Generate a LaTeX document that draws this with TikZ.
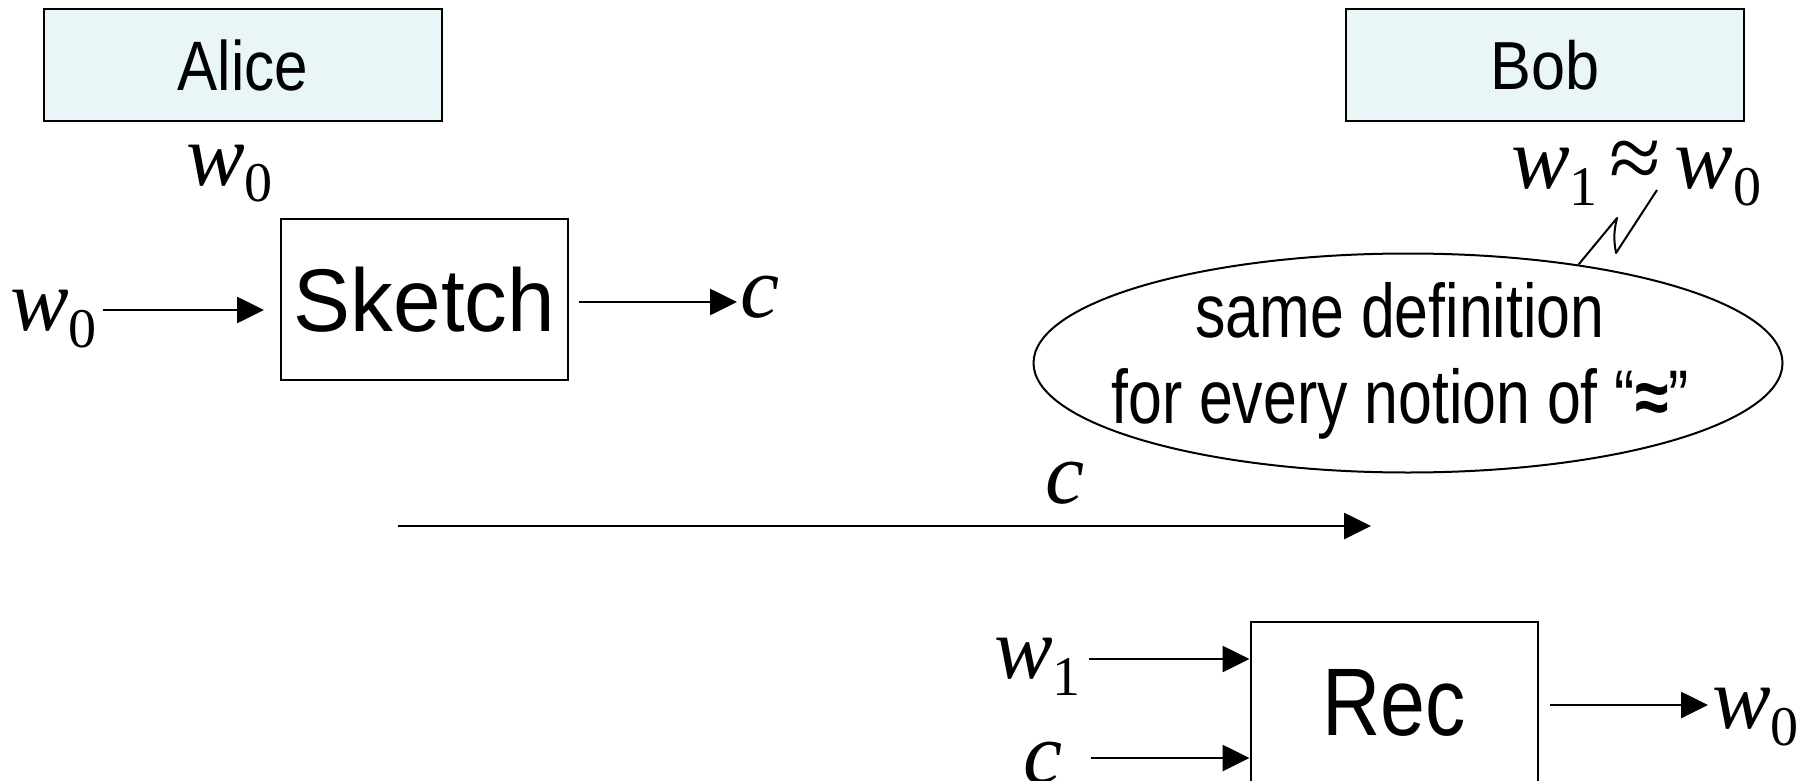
\documentclass[tikz,border=0pt]{standalone}
\usepackage{fontspec}
\setmainfont{Liberation Sans}
\newfontfamily\tms{Liberation Serif}
\usetikzlibrary{arrows.meta,shapes.geometric}
\definecolor{boxfill}{RGB}{234,245,247}
\newcommand{\hs}[2]{\scalebox{#1}[1]{#2}}
\newcommand{\mv}[1]{{\tms\itshape #1}}
\newcommand{\sbs}[1]{\raisebox{-17pt}{\tms\fontsize{56}{56}\selectfont #1}}
\tikzset{
  every picture/.style={x=1pt,y=-1pt},
  arr/.style={line width=2.7pt,-{Triangle[length=27pt,width=26pt]}},
  namebox/.style={draw,line width=2pt,fill=boxfill,minimum width=398pt,minimum height=112pt,inner sep=0pt,font=\fontsize{70}{70}\selectfont},
  procbox/.style={draw,line width=2pt,minimum width=287pt,minimum height=161pt,inner sep=0pt},
  mth/.style={inner sep=0pt,anchor=base west,font=\fontsize{88}{88}\selectfont},
}
\begin{document}
\begin{tikzpicture}
\useasboundingbox (0,0) rectangle (1806,781);
\clip (0,0) rectangle (1806,781);
% name boxes
\node[namebox] (alice) at (243,65) {\hs{0.86}{Alice}};
\node[namebox,font=\fontsize{68}{68}\selectfont] (bob) at (1545,65) {\hs{0.9}{Bob}};
% Alice side
\node[mth] (w0a) at (186,185) {\mv{w}\sbs{0}};
\node[procbox,font=\fontsize{89}{89}\selectfont] (sketch) at (424.5,299.5) {\hs{0.96}{Sketch}};
\node[mth] (w0in) at (10,330) {\mv{w}\sbs{0}};
\node[mth] (cout) at (740,317) {\mv{c}};
\draw[arr] ([xshift=6pt,yshift=20pt]w0in.base east) -- ([xshift=-16pt,yshift=-10.5pt]sketch.west);
\draw[arr] ([xshift=10pt,yshift=-2.5pt]sketch.east) -- ([xshift=-3pt,yshift=15pt]cout.base west);
% transmission
\coordinate (cs) at (398,526);
\coordinate (ce) at (1371,526);
\node[mth] (clab) at (1045,503) {\mv{c}};
\draw[arr] (cs) -- (ce);
% Bob side
\node[mth] (eq) at (1511,188) {\mv{w}\sbs{1}\hspace{12pt}\raisebox{-1pt}{\tms\fontsize{94}{94}\selectfont ≈}\hspace{13pt}\mv{w}\sbs{0}};
\node[draw,line width=2pt,ellipse,minimum width=749pt,minimum height=219pt,inner sep=0pt] (ell) at (1408,363) {};
\node[inner sep=0pt,align=center,font=\fontsize{76}{86}\selectfont] (elltext) at (1400,361)
  {\hs{0.8}{same definition}\\\hs{0.8}{for every notion of “\textbf{≈}”}};
\coordinate (zz1) at (1617,218);
\coordinate (zz2) at (1616,253);
\coordinate (zz3) at (1657,190);
\draw[line width=2pt,line join=round] (ell.30) -- (zz1) to[bend right=12] (zz2) -- (zz3);
% Rec
\node[procbox,font=\fontsize{96}{96}\selectfont] (rec) at (1394,702.5) {\hs{0.84}{Rec}};
\node[mth] (w1in) at (994,678) {\mv{w}\sbs{1}};
\node[mth] (cin) at (1023,783) {\mv{c}};
\node[mth] (w0out) at (1712,728) {\mv{w}\sbs{0}};
\draw[arr] ([xshift=8pt,yshift=19pt]w1in.base east) -- ([yshift=43.5pt]rec.west);
\draw[arr] ([xshift=29pt,yshift=25pt]cin.base east) -- ([yshift=-55.5pt]rec.west);
\draw[arr] ([xshift=11pt,yshift=-2.5pt]rec.east) -- ([xshift=-4pt,yshift=23pt]w0out.base west);
\end{tikzpicture}
\end{document}
